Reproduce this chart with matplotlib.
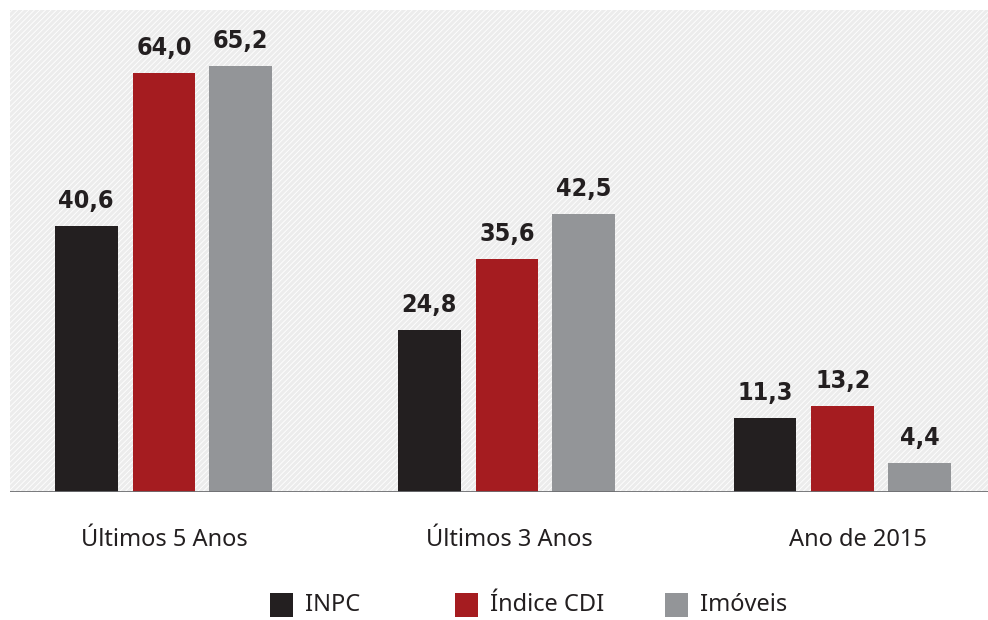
import matplotlib.pyplot as plt
import matplotlib.patches as mpatches
import numpy as np

categories = ["Últimos 5 Anos", "Últimos 3 Anos", "Ano de 2015"]
series = ["INPC", "Índice CDI", "Imóveis"]
inpc = [40.6, 24.8, 11.3]
cdi = [64.0, 35.6, 13.2]
imoveis = [65.2, 42.5, 4.4]

colors = ["#231f20", "#a51c20", "#939598"]
values = [inpc, cdi, imoveis]

plt.rcParams["hatch.color"] = "white"
plt.rcParams["hatch.linewidth"] = 0.6

fig = plt.figure(figsize=(9.88, 6.2), dpi=100)
ax = fig.add_axes([10 / 988, 1 - 492 / 620, 978 / 988, 482 / 620])
ax.set_facecolor("#ececec")
ax.add_patch(mpatches.Rectangle((0, 0), 1, 1, transform=ax.transAxes,
                                facecolor="none", edgecolor="white",
                                hatch="//////", linewidth=0, zorder=0))

x = np.array([0, 1.009, 1.997])
offsets = [-0.229, 0.0, 0.226]
width = 0.185
for vals, off, col in zip(values, offsets, colors):
    bars = ax.bar(x + off, vals, width, color=col, zorder=2)
    for b, v in zip(bars, vals):
        ax.text(b.get_x() + b.get_width() / 2, v + 2.0, f"{v:.1f}".replace(".", ","),
                ha="center", va="bottom", fontsize=18, fontweight="bold",
                family="DejaVu Sans", fontstretch="condensed", color="#231f20")

ax.set_xlim(-0.453, 2.424)
ax.set_ylim(0, 73.7)
ax.axhline(0, color="#6d6e71", linewidth=2, zorder=3)
for s in ax.spines.values():
    s.set_visible(False)
ax.set_xticks([])
ax.set_yticks([])

label_x = [0, 1.015, 2.04]
for lx, c in zip(label_x, categories):
    ax.text(lx, -7.3, c, ha="center", va="center", fontsize=17,
            family="Noto Sans", color="#231f20", clip_on=False)

# legend drawn by hand to keep the reference spacing
leg_x = [270, 455, 665]
for lx, c, s in zip(leg_x, colors, series):
    fig.patches.append(mpatches.Rectangle((lx / 988, 1 - 617 / 620), 23 / 988, 24 / 620,
                                          transform=fig.transFigure, facecolor=c,
                                          edgecolor="none"))
    fig.text((lx + 35) / 988, 1 - 605 / 620, s, ha="left", va="center",
             fontsize=17, family="Noto Sans", color="#231f20")

fig.savefig("out.png", dpi=100)
